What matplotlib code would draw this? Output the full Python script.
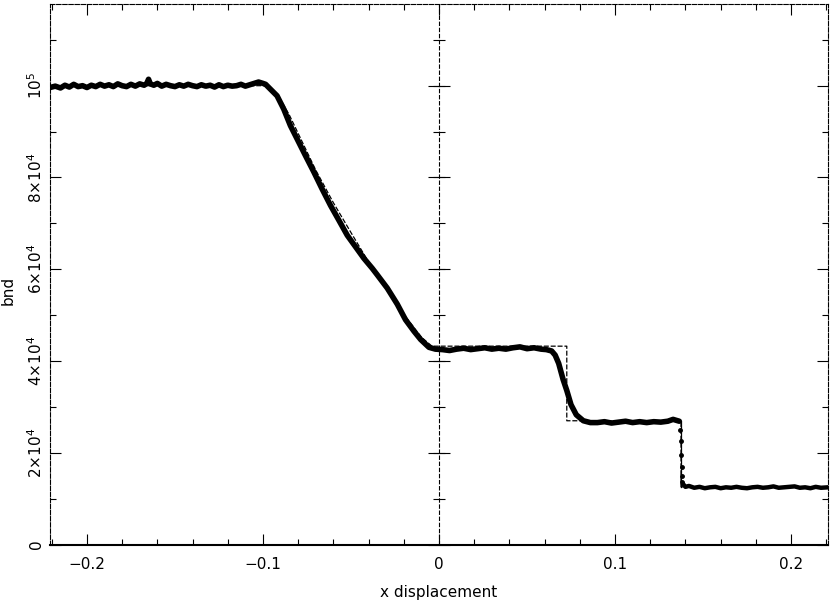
import numpy as np
import matplotlib
matplotlib.use("Agg")
import matplotlib.pyplot as plt
from matplotlib.ticker import MultipleLocator, FixedLocator

plt.rcParams['font.family'] = ['DejaVu Sans']
plt.rcParams['mathtext.default'] = 'regular'

# ---- particle data (x displacement, density in units of 1e3) ----
data_x_a = [-0.221, -0.218, -0.215, -0.2125, -0.210, -0.2075, -0.205, -0.2025, -0.200,
            -0.1975, -0.195, -0.1925, -0.190, -0.1875, -0.185, -0.1825, -0.180,
            -0.1775, -0.175, -0.1725, -0.170, -0.1675, -0.166, -0.165, -0.164,
            -0.162, -0.160, -0.1575, -0.155, -0.1525, -0.150, -0.1475, -0.145,
            -0.1425, -0.140, -0.1375, -0.135, -0.1325, -0.130, -0.1275, -0.125,
            -0.1225, -0.120, -0.1175, -0.115, -0.1125, -0.110, -0.1075, -0.105,
            -0.1025, -0.100, -0.0985, -0.0967,
            -0.0920, -0.0882, -0.0844, -0.0806, -0.0759, -0.0711, -0.0664, -0.0616,
            -0.0569, -0.0521, -0.0474, -0.0427, -0.0379, -0.0351, -0.0294, -0.0237,
            -0.0190, -0.0142, -0.0104, -0.0057, -0.002,
            0.002, 0.006, 0.010, 0.014, 0.018, 0.022, 0.026, 0.030, 0.034, 0.038,
            0.042, 0.046, 0.050, 0.054, 0.058, 0.061, 0.064, 0.066, 0.068, 0.0705,
            0.0726, 0.075, 0.078, 0.082, 0.086,
            0.090, 0.094, 0.098, 0.102, 0.106, 0.110, 0.114, 0.118, 0.122, 0.126,
            0.130, 0.133, 0.1365]
data_y_a = [99.6, 99.9, 99.5, 100.1, 99.7, 100.3, 99.8, 100.0, 99.6,
            100.1, 99.8, 100.3, 99.9, 100.2, 99.8, 100.4, 100.0,
            99.8, 100.3, 99.9, 100.4, 100.1, 100.5, 101.4, 100.4,
            100.1, 100.5, 99.9, 100.3, 100.0, 99.8, 100.2, 99.9,
            100.3, 100.0, 99.8, 100.2, 99.9, 100.1, 99.7, 100.2,
            99.8, 100.1, 99.9, 100.0, 100.3, 99.9, 100.2, 100.5,
            100.8, 100.5, 100.3, 99.6,
            97.8, 94.9, 91.3, 88.4, 84.8, 81.2, 77.5, 73.9,
            70.7, 67.4, 64.9, 62.4, 60.2, 58.8, 55.9, 52.4,
            49.0, 46.5, 44.7, 43.0, 42.6,
            42.5, 42.3, 42.6, 42.8, 42.5, 42.7, 42.9, 42.6, 42.8, 42.6,
            42.9, 43.1, 42.7, 42.9, 42.6, 42.5, 42.2, 41.3, 39.5, 36.0,
            33.6, 30.5, 28.3, 27.0, 26.6,
            26.6, 26.8, 26.5, 26.7, 26.9, 26.6, 26.8, 26.6, 26.8, 26.7,
            26.9, 27.3, 26.9]
shock_x = [0.1372, 0.1374, 0.1376, 0.1378, 0.1379, 0.1380]
shock_y = [25.0, 22.5, 19.5, 17.0, 15.0, 13.6]
data_x_b = [0.1385, 0.140, 0.142, 0.145, 0.148, 0.151, 0.154, 0.157, 0.160, 0.163,
            0.166, 0.169, 0.172, 0.175, 0.178, 0.181, 0.184, 0.187, 0.190, 0.193,
            0.196, 0.199, 0.202, 0.205, 0.208, 0.211, 0.214, 0.217, 0.221]
data_y_b = [13.3, 12.6, 12.8, 12.4, 12.6, 12.3, 12.5, 12.6, 12.3, 12.5,
            12.4, 12.6, 12.4, 12.3, 12.5, 12.6, 12.4, 12.5, 12.7, 12.4,
            12.5, 12.6, 12.7, 12.4, 12.5, 12.3, 12.6, 12.4, 12.5]

# ---- analytic solution ----
ana_x = [-0.221, -0.097, -0.090, -0.085, -0.080, -0.070, -0.060, -0.050, -0.040,
         -0.030, -0.020, -0.010, -0.004, 0.0726, 0.0726, 0.1375, 0.1375, 0.221]
ana_y = [100.0, 100.0, 97.0, 93.6, 89.6, 81.6, 74.5, 68.0, 61.6,
         56.0, 50.2, 45.2, 43.25, 43.25, 27.0, 27.0, 12.6, 12.6]

scale = 1e3
x_major = [-0.2, -0.1, 0.0, 0.1, 0.2]
x_labels = ['\u22120.2', '\u22120.1', '0', '0.1', '0.2']
y_major = [0, 2e4, 4e4, 6e4, 8e4, 1e5]
y_labels = ['0', r'$2{\times}10^4$', r'$4{\times}10^4$', r'$6{\times}10^4$',
            r'$8{\times}10^4$', r'$10^5$']

fig = plt.figure(figsize=(8.3, 6.04), dpi=100)
ax = fig.add_axes([0.0602, 0.0982, 0.9374, 0.8952])

ax.set_xlim(-0.221, 0.221)
ax.set_ylim(0, 1.178e5)

# analytic (dashed)
ax.plot(ana_x, np.array(ana_y) * scale, color='black', lw=0.9,
        linestyle=(0, (4, 1.5)), zorder=2)
# particle data
ax.plot(data_x_a, np.array(data_y_a) * scale, color='black', lw=4.0,
        solid_capstyle='round', solid_joinstyle='round', zorder=3)
ax.plot(data_x_b, np.array(data_y_b) * scale, color='black', lw=3.2,
        solid_capstyle='round', solid_joinstyle='round', zorder=3)
ax.plot(shock_x, np.array(shock_y) * scale, 'o', color='black', ms=2.5, zorder=3)
ax.plot([0.1375, 0.1375], [27.0 * scale, 12.6 * scale], color='black', lw=0.9, zorder=2)

# vertical line at x = 0 with ticks both sides
ax.axvline(0, color='black', lw=0.8, linestyle=(0, (4, 1.5)), zorder=1)
y_minor = np.arange(0, 1.178e5, 1e4)
ax.plot(np.zeros(len(y_major)), y_major, linestyle='none', marker='_',
        ms=16, mew=0.8, color='black', clip_on=False)
ax.plot(np.zeros(len(y_minor)), y_minor, linestyle='none', marker='_',
        ms=8, mew=0.8, color='black')

ax.xaxis.set_major_locator(FixedLocator(x_major))
ax.set_xticklabels(x_labels, fontsize=11)
ax.xaxis.set_minor_locator(MultipleLocator(0.02))
ax.yaxis.set_major_locator(FixedLocator(y_major))
ax.set_yticklabels(y_labels, fontsize=11, rotation=90, va='center', ha='center')
ax.yaxis.set_minor_locator(MultipleLocator(1e4))

ax.tick_params(which='both', direction='in', top=True, right=True, width=0.8,
               colors='black')
ax.tick_params(which='major', length=8)
ax.tick_params(which='minor', length=4)
ax.tick_params(axis='x', which='major', pad=9)
ax.tick_params(axis='y', which='major', pad=10)

for s in ['left', 'top', 'right']:
    ax.spines[s].set_linestyle((0, (4, 1.5)))
    ax.spines[s].set_linewidth(0.8)
ax.spines['bottom'].set_linewidth(1.5)

ax.set_xlabel('x displacement', fontsize=11, labelpad=9)
ax.set_ylabel('bnd', fontsize=11)
ax.yaxis.set_label_coords(-0.0437, 0.47)

fig.savefig('out.png', dpi=100)
